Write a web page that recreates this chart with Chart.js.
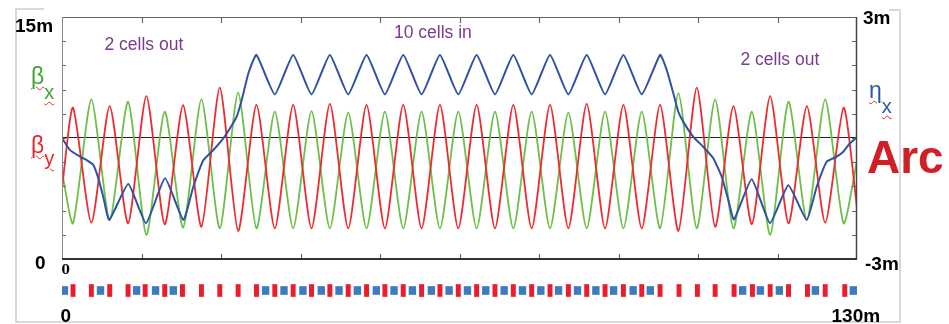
<!DOCTYPE html>
<html>
<head>
<meta charset="utf-8">
<script src="https://cdn.jsdelivr.net/npm/chart.js@4.4.1/dist/chart.umd.min.js"></script>
<style>
  html, body { margin: 0; padding: 0; background: #fff; }
  #wrap { position: relative; width: 949px; height: 324px; overflow: hidden; }
  #wrap canvas { position: absolute; left: 0; top: 0; }
  .frame { position: absolute; background: #d9d9d9; }
  .lbl { position: absolute; white-space: nowrap; line-height: 1; font-family: "Liberation Sans", Arial, sans-serif; z-index: 5; }
  .ax { font-weight: bold; font-size: 19px; color: #000; }
  .cell { font-size: 17.5px; color: #7a3a8e; }
  .sym { font-size: 23px; }
  .w { text-decoration: underline wavy #e02a2a; text-decoration-thickness: 1px; text-underline-offset: 2px; }
  .sub { display: inline-block; position: relative; font-size: 20px; }
</style>
</head>
<body>
<div id="wrap">
  <canvas id="optics" width="949" height="324"></canvas>
  <canvas id="lattice" width="949" height="324"></canvas>

  <!-- 淡灰色外框 -->
  <div class="frame" style="left:15px;top:8px;width:1.5px;height:314px"></div>
  <div class="frame" style="left:15px;top:321px;width:886px;height:1.5px"></div>
  <div class="frame" style="left:899px;top:9px;width:1.5px;height:313px"></div>
  <div class="frame" style="left:15px;top:8px;width:29px;height:1.5px"></div>
  <div class="frame" style="left:889px;top:9px;width:11px;height:1.5px"></div>

  <div class="lbl ax" style="left:15px;top:16px">15m</div>
  <div class="lbl ax" style="left:35px;top:252.5px">0</div>
  <div class="lbl ax" style="left:863px;top:7.5px">3m</div>
  <div class="lbl ax" style="left:865px;top:254px">-3m</div>
  <div class="lbl" style="left:61.5px;top:263.5px;font-family:'DejaVu Serif',serif;font-weight:bold;font-size:12px">0</div>
  <div class="lbl ax" style="left:60.5px;top:305.8px">0</div>
  <div class="lbl ax" style="left:831.5px;top:305.5px">130m</div>

  <div class="lbl cell" style="left:104.5px;top:36px">2 cells out</div>
  <div class="lbl cell" style="left:394px;top:24.4px">10 cells in</div>
  <div class="lbl cell" style="left:740.5px;top:51px">2 cells out</div>

  <div class="lbl sym" style="left:31px;top:65px;color:#3fa535"><span class="w">β</span><span class="sub w" style="top:15px">x</span></div>
  <div class="lbl sym" style="left:31px;top:134px;color:#e8262d"><span class="w">β</span><span class="sub w" style="top:12px">y</span></div>
  <div class="lbl sym" style="left:869px;top:79px;color:#2b58a8"><span class="w">η</span><span class="sub w" style="top:15px">x</span></div>
  <div class="lbl" style="left:867px;top:134px;font-size:46px;font-weight:bold;color:#d01f27">Arc</div>
</div>

<script>
// 轉折點位置 (m)，兩條 beta 曲線共用
const sTurn = [0, 1.8, 4.8, 7.8, 10.8, 13.8, 16.8, 19.8, 22.8, 25.8, 28.8,
    31.8, 34.8, 37.8, 40.8, 43.8, 46.8, 49.8, 52.8, 55.8, 58.8, 61.8, 64.8,
    67.8, 70.8, 73.8, 76.8, 79.8, 82.8, 85.8, 88.8, 91.8, 94.8, 97.8, 100.8,
    103.8, 106.8, 109.8, 112.8, 115.8, 118.8, 121.8, 124.8, 127.8, 130];

// beta_x (綠)
const betaX = [5.4, 2.21, 9.90, 2.42, 9.75, 1.49, 9.13, 1.95, 9.90, 1.90, 10.31,
    1.90, 9.13, 1.90, 9.17, 1.90, 9.07, 1.90, 9.13, 1.90, 9.13, 1.90, 9.13,
    1.90, 9.13, 1.90, 9.13, 1.90, 9.07, 1.90, 9.13, 1.90, 9.13, 1.90, 10.27,
    1.90, 9.90, 1.90, 9.13, 1.49, 9.75, 2.42, 9.90, 2.21, 6.1];

// beta_y (紅)
const betaY = [4.4, 9.38, 2.25, 9.48, 2.21, 10.10, 2.15, 9.53, 2.00, 10.62, 1.74,
    9.55, 1.90, 9.55, 1.90, 9.61, 1.90, 9.55, 1.90, 9.55, 1.90, 9.55, 1.90,
    9.55, 1.90, 9.55, 1.90, 9.55, 1.90, 9.61, 1.90, 9.55, 1.90, 9.55, 1.74,
    10.62, 2.00, 9.48, 2.15, 10.10, 2.21, 9.48, 2.25, 9.38, 3.2];

// 色散 eta_x (藍)
const sEta = [0, 1.31, 2.94, 4.04, 5.12, 5.94, 6.75, 7.73, 10.84, 13.74, 16.84,
    19.84, 21.47, 23.11, 24.74, 26.38, 27.47, 28.57, 29.39, 30.47,
    31.8, 34.8, 37.8, 40.8, 43.8, 46.8, 49.8, 52.8, 55.8, 58.8, 61.8, 64.8,
    67.8, 70.8, 73.8, 76.8, 79.8, 82.8, 85.8, 88.8, 91.8, 94.8, 97.8,
    98.88, 99.96, 100.78, 101.6, 103.23, 104.87, 106.5, 107.88, 108.96, 109.89,
    112.78, 115.77, 118.77, 121.77, 123.41, 125.04, 126.68, 127.76, 128.85, 130];
const eta = [0, -0.30, -0.46, -0.55, -0.67, -1.00, -1.46, -2.03, -1.14, -2.11, -1.00,
    -2.03, -1.21, -0.55, -0.30, -0.01, 0.24, 0.53, 0.94, 1.60,
    2.06, 1.08, 2.06, 1.08, 2.06, 1.08, 2.06, 1.08, 2.06, 1.08, 2.06, 1.08,
    2.06, 1.08, 2.06, 1.08, 2.06, 1.08, 2.06, 1.08, 2.06, 1.08, 2.06,
    1.69, 1.11, 0.65, 0.40, 0.03, -0.22, -0.50, -0.96, -1.54, -2.02,
    -1.02, -2.11, -1.17, -2.03, -1.21, -0.59, -0.46, -0.34, -0.13, 0.02];

// 刻度
const sTicks = [13, 26, 39, 52, 65, 78, 91, 104, 117];
const betaTicks = [1.5, 3, 4.5, 6, 7.5, 9, 10.5, 12, 13.5];
const etaTicks = [-2.4, -1.8, -1.2, -0.6, 0, 0.6, 1.2, 1.8, 2.4];

// 磁鐵中心位置 (m)
const quadS = [1.8, 4.8, 7.8, 10.8, 13.6, 16.8, 19.7, 22.8, 25.8, 28.8, 31.8,
    34.8, 37.8, 40.8, 43.8, 46.8, 49.8, 52.8, 55.8, 58.8, 61.8, 64.8, 67.8,
    70.8, 73.8, 76.8, 79.8, 82.8, 85.8, 88.8, 91.8, 94.8, 97.8, 100.9, 103.9,
    106.8, 109.9, 112.9, 115.8, 118.8, 121.9, 124.8, 128.0];
const dipoleS = [0.4, 6.3, 12.2, 15.3, 18.2, 33.3, 36.3, 39.4, 42.4, 45.3, 48.3,
    51.4, 54.3, 57.3, 60.4, 63.3, 66.3, 69.3, 72.3, 75.3, 78.3, 81.2, 84.3,
    87.3, 90.2, 93.4, 96.2, 111.3, 114.2, 117.3, 123.2, 129.4];
const quadLen = 0.7;
const dipoleLen = 1.1;

const toPts = (xs, ys) => xs.map((x, i) => ({ x: x, y: ys[i] }));

// 外框、零線與內向刻度
const frameTicks = {
    id: "frameTicks",
    beforeDatasetsDraw(chart) {
        const { ctx, chartArea: a, scales } = chart;
        const y0 = Math.round(scales.yEta.getPixelForValue(0)) - 0.5;
        ctx.save();
        ctx.strokeStyle = "#222";
        ctx.lineWidth = 1;
        ctx.beginPath();
        ctx.moveTo(a.left, y0);
        ctx.lineTo(a.right, y0);
        ctx.stroke();
        ctx.restore();
    },
    afterDatasetsDraw(chart) {
        const { ctx, chartArea: a, scales } = chart;
        ctx.save();
        ctx.strokeStyle = "#666";
        ctx.lineWidth = 1.2;
        ctx.beginPath();
        sTicks.forEach(v => {
            const x = Math.round(scales.x.getPixelForValue(v)) + 0.5;
            ctx.moveTo(x, a.top); ctx.lineTo(x, a.top + 6);
            ctx.moveTo(x, a.bottom); ctx.lineTo(x, a.bottom - 5);
        });
        betaTicks.forEach(v => {
            const y = Math.round(scales.yBeta.getPixelForValue(v)) + 0.5;
            ctx.moveTo(a.left, y); ctx.lineTo(a.left + 4, y);
        });
        etaTicks.forEach(v => {
            const y = Math.round(scales.yEta.getPixelForValue(v)) + 0.5;
            ctx.moveTo(a.right, y); ctx.lineTo(a.right - 5, y);
        });
        ctx.stroke();

        ctx.lineWidth = 1;
        ctx.strokeStyle = "#666";
        ctx.beginPath();
        ctx.moveTo(a.left, a.top + 0.5); ctx.lineTo(a.right, a.top + 0.5);
        ctx.stroke();
        ctx.strokeStyle = "#888";
        ctx.beginPath();
        ctx.moveTo(a.left + 0.5, a.top); ctx.lineTo(a.left + 0.5, a.bottom);
        ctx.stroke();
        ctx.strokeStyle = "#444";
        ctx.lineWidth = 1.5;
        ctx.beginPath();
        ctx.moveTo(a.right - 0.5, a.top); ctx.lineTo(a.right - 0.5, a.bottom);
        ctx.stroke();
        ctx.strokeStyle = "#333";
        ctx.lineWidth = 2;
        ctx.beginPath();
        ctx.moveTo(a.left, a.bottom); ctx.lineTo(a.right, a.bottom);
        ctx.stroke();
        ctx.restore();
    }
};

new Chart(document.getElementById("optics"), {
    type: "line",
    data: {
        datasets: [
            {
                label: "eta_x",
                data: toPts(sEta, eta),
                yAxisID: "yEta",
                borderColor: "#2f52a2",
                borderWidth: 2,
                tension: 0.15
            },
            {
                label: "beta_y",
                data: toPts(sTurn, betaY),
                yAxisID: "yBeta",
                borderColor: "#ef2a31",
                borderWidth: 1.8,
                tension: 0.22
            },
            {
                label: "beta_x",
                data: toPts(sTurn, betaX),
                yAxisID: "yBeta",
                borderColor: "#6cbf48",
                borderWidth: 1.8,
                tension: 0.22
            }
        ]
    },
    options: {
        responsive: false,
        animation: false,
        events: [],
        layout: { padding: { left: 62, right: 92, top: 17, bottom: 65 } },
        elements: { point: { radius: 0 } },
        plugins: { legend: { display: false }, tooltip: { enabled: false } },
        scales: {
            x: { type: "linear", min: 0, max: 130, display: false },
            yBeta: { type: "linear", position: "left", min: 0, max: 15, display: false },
            yEta: { type: "linear", position: "right", min: -3, max: 3, display: false }
        }
    },
    plugins: [frameTicks]
});

new Chart(document.getElementById("lattice"), {
    type: "bar",
    data: {
        datasets: [
            {
                label: "Quadrupoles",
                data: quadS.map(s => ({ y: 0, x: [s - quadLen / 2, s + quadLen / 2] })),
                backgroundColor: "#ec1c2c",
                barThickness: 12,
                grouped: false
            },
            {
                label: "Dipoles",
                data: dipoleS.map(s => ({ y: 0, x: [s - dipoleLen / 2, s + dipoleLen / 2] })),
                backgroundColor: "#3b7bbf",
                barThickness: 8,
                grouped: false
            }
        ]
    },
    options: {
        indexAxis: "y",
        responsive: false,
        animation: false,
        events: [],
        layout: { padding: { left: 62, right: 92, top: 284, bottom: 27 } },
        plugins: { legend: { display: false }, tooltip: { enabled: false } },
        scales: {
            x: { type: "linear", min: 0, max: 130, display: false },
            y: { type: "linear", min: -1, max: 1, display: false }
        }
    }
});
</script>
</body>
</html>
